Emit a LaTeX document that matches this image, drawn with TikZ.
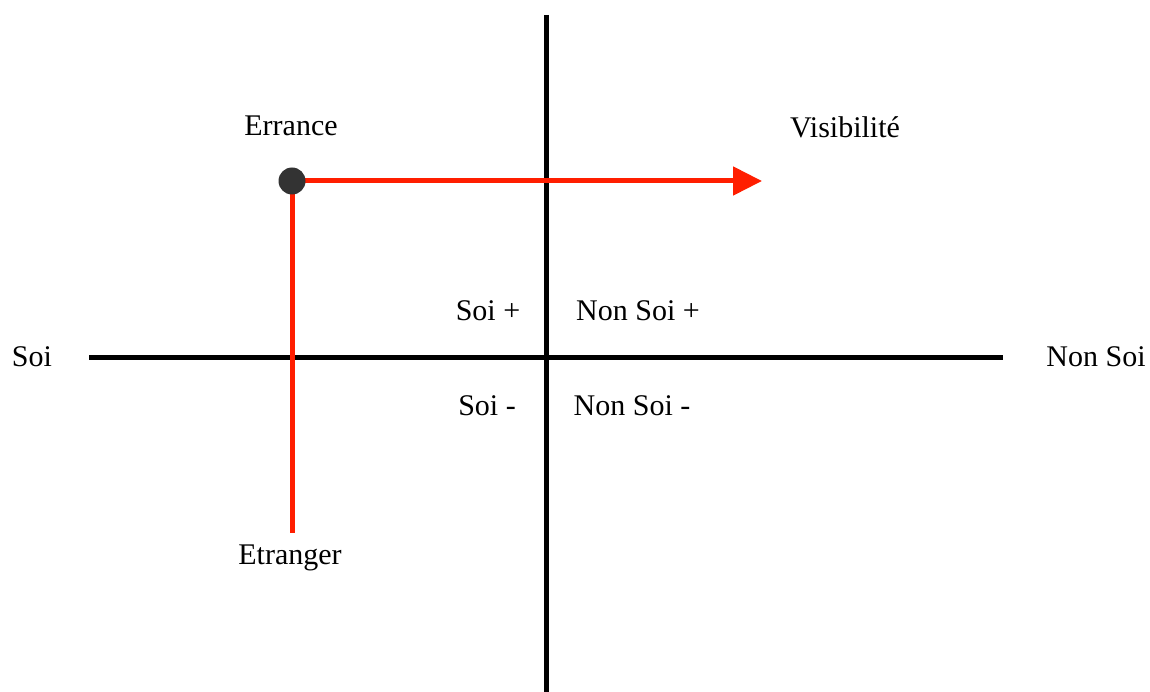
\documentclass[tikz,border=0pt]{standalone}
\usepackage{fontspec}
\setmainfont{Liberation Serif}
\usetikzlibrary{arrows,arrows.meta,positioning}

\begin{document}
\begin{tikzpicture}[x=1pt,y=-1pt,line width=5pt,
                    font=\fontsize{30}{36}\selectfont]
  \tikzstyle{axis}=[draw=black]
  \tikzstyle{path}=[draw={rgb,255:red,255;green,30;blue,0}]
  \tikzstyle{word}=[inner sep=0pt,text=black]
  \tikzstyle{dot}=[circle,fill={rgb,255:red,51;green,51;blue,51},inner sep=0pt,minimum size=27pt]

  \useasboundingbox (0,0) rectangle (1150,692);

  % axes
  \coordinate (top)    at (546,15);
  \coordinate (bottom) at (546,692);
  \coordinate (left)   at (89,357);
  \coordinate (right)  at (1003,357);

  \node[word] (soi)    at (32,357)   {Soi};
  \node[word] (nonsoi) at (1096,357) {Non Soi};
  \node[word] (sp)  at (488,311) {Soi +};
  \node[word] (nsp) at (638,311) {Non Soi +};
  \node[word] (sm)  at (487,406) {Soi -};
  \node[word] (nsm) at (632,406) {Non Soi -};

  \node[word] (errance) at (291,126) {Errance};
  \node[word] (visib)   at (845,127) {Visibilit\'e};
  \node[word] (etrang)  at (290,558) {Etranger};

  \coordinate (start) at (292,181);
  \coordinate (end) at (292,533);
  \coordinate (tip) at (762,181);

  \path[axis] (left) -- (right);
  \path[axis] (top) -- (bottom);

  \path[path] (start) -- (end);
  \path[path,-{Triangle[length=29pt,width=28pt]}] (start) -- (tip);
  \node[dot] (err) at (start) {};
\end{tikzpicture}
\end{document}
